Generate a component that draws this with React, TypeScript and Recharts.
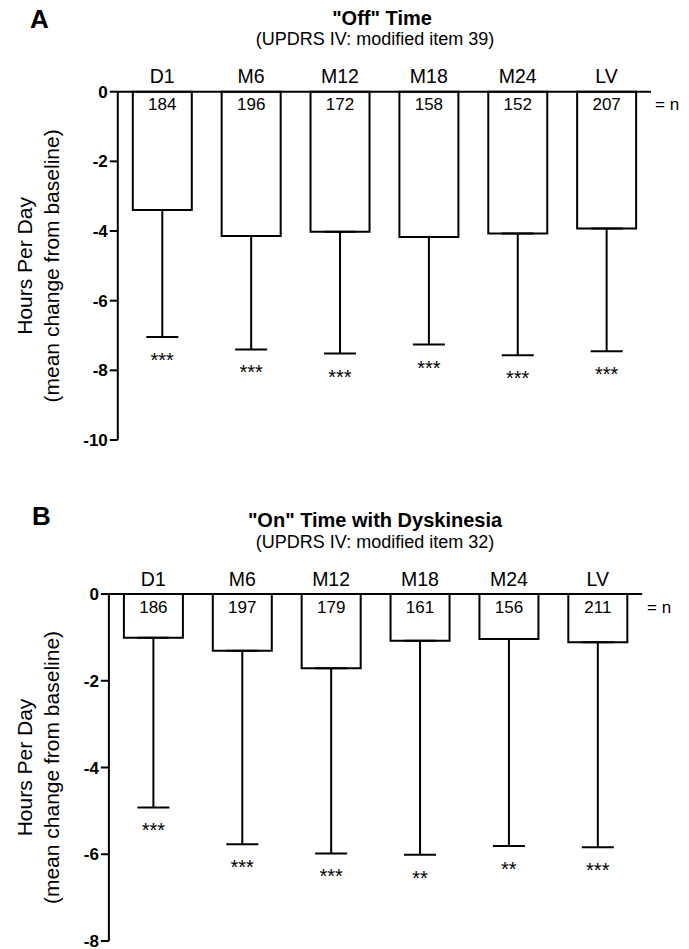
import React from 'react';
import { ComposedChart, Bar, XAxis, YAxis, ErrorBar, Scatter, LabelList } from 'recharts';

const categories = ['D1', 'M6', 'M12', 'M18', 'M24', 'LV'];

// Panel A: "Off" Time
const offMeans = [-3.4, -4.14, -4.02, -4.17, -4.07, -3.93];
const offLowerEnds = [-7.04, -7.4, -7.52, -7.26, -7.57, -7.45];
const offN = [184, 196, 172, 158, 152, 207];
const offStars = ['***', '***', '***', '***', '***', '***'];
const offTicks = [0, -2, -4, -6, -8, -10];

// Panel B: "On" Time with Dyskinesia
const dysMeans = [-1.01, -1.31, -1.71, -1.08, -1.04, -1.11];
const dysLowerEnds = [-4.92, -5.77, -5.98, -6.01, -5.81, -5.84];
const dysN = [186, 197, 179, 161, 156, 211];
const dysStars = ['***', '***', '***', '**', '**', '***'];
const dysTicks = [0, -2, -4, -6, -8];

const FONT = '"Liberation Sans", Arial, Helvetica, sans-serif';

function buildRows(means: number[], lower: number[], n: number[], stars: string[]) {
  return categories.map((c, i) => ({
    cat: c,
    mean: means[i],
    err: [means[i] - lower[i], 0],
    tip: lower[i],
    n: n[i],
    stars: stars[i],
  }));
}

const offRows = buildRows(offMeans, offLowerEnds, offN, offStars);
const dysRows = buildRows(dysMeans, dysLowerEnds, dysN, dysStars);

const NLabel = (props: any) => {
  const vb = props.viewBox || props;
  const x = vb.x ?? props.x;
  const y = vb.y ?? props.y;
  const w = vb.width ?? props.width;
  const h = vb.height ?? props.height;
  const top = Math.min(y, y + h);
  return (
    <text x={x + w / 2} y={top + 18.5} textAnchor="middle" fontSize={17} fontFamily={FONT} fill="#000">
      {props.value}
    </text>
  );
};

const StarShape = (props: any) => (
  <text x={props.cx} y={props.cy + 30} textAnchor="middle" fontSize={20} fontFamily={FONT} fill="#000">
    {props.payload.stars}
  </text>
);

type PanelProps = {
  rows: any[];
  ticks: number[];
  domain: [number, number];
  top: number;
  height: number;
  marginTop: number;
  marginBottom: number;
  marginRight: number;
  yAxisWidth: number;
};

const Panel = ({ rows, ticks, domain, top, height, marginTop, marginBottom, marginRight, yAxisWidth }: PanelProps) => (
  <div style={{ position: 'absolute', left: 0, top }}>
    <ComposedChart
      width={689}
      height={height}
      data={rows}
      margin={{ top: marginTop, right: marginRight, bottom: marginBottom, left: 0 }}
    >
      <XAxis
        dataKey="cat"
        type="category"
        orientation="top"
        height={30}
        tickLine={false}
        tickSize={0}
        tickMargin={8.5}
        axisLine={{ stroke: '#000', strokeWidth: 2 }}
        tick={{ fontSize: 19.5, fill: '#000', fontFamily: FONT }}
        interval={0}
      />
      <YAxis
        type="number"
        domain={domain}
        ticks={ticks}
        interval={0}
        width={yAxisWidth}
        tickSize={8}
        tickMargin={2}
        axisLine={{ stroke: '#000', strokeWidth: 2 }}
        tickLine={{ stroke: '#000', strokeWidth: 2 }}
        tick={{ fontSize: 17, fontWeight: 'bold', fill: '#000', fontFamily: FONT }}
      />
      <Bar dataKey="mean" barSize={59} fill="#fff" stroke="#000" strokeWidth={2} isAnimationActive={false}>
        <ErrorBar dataKey="err" direction="y" width={16} stroke="#000" strokeWidth={2} />
        <LabelList dataKey="n" content={NLabel} />
      </Bar>
      <Scatter dataKey="tip" shape={StarShape} isAnimationActive={false} />
    </ComposedChart>
  </div>
);

const Overlay = () => (
  <svg
    width={689}
    height={949}
    style={{ position: 'absolute', left: 0, top: 0, pointerEvents: 'none' }}
    fontFamily={FONT}
  >
    {/* Panel A */}
    <text x={30} y={28} fontSize={26} fontWeight="bold" fill="#000">A</text>
    <text x={382} y={25} fontSize={20} fontWeight="bold" textAnchor="middle" fill="#000">"Off" Time</text>
    <text x={375} y={45} fontSize={18} textAnchor="middle" fill="#000">(UPDRS IV: modified item 39)</text>
    <text x={655} y={110} fontSize={17} fill="#000">= n</text>
    <g transform="translate(24.4, 265.9) rotate(-90)">
      <text x={0} y={0} fontSize={21} textAnchor="middle" dominantBaseline="central" fill="#000">Hours Per Day</text>
    </g>
    <g transform="translate(51, 265.9) rotate(-90)">
      <text x={0} y={0} fontSize={21} textAnchor="middle" dominantBaseline="central" fill="#000">(mean change from baseline)</text>
    </g>

    {/* Panel B */}
    <text x={32} y={525} fontSize={26} fontWeight="bold" fill="#000">B</text>
    <text x={375} y={527} fontSize={20} fontWeight="bold" textAnchor="middle" fill="#000">"On" Time with Dyskinesia</text>
    <text x={375} y={548} fontSize={18} textAnchor="middle" fill="#000">(UPDRS IV: modified item 32)</text>
    <text x={647} y={613} fontSize={17} fill="#000">= n</text>
    <g transform="translate(24.4, 767.5) rotate(-90)">
      <text x={0} y={0} fontSize={21} textAnchor="middle" dominantBaseline="central" fill="#000">Hours Per Day</text>
    </g>
    <g transform="translate(51, 767.5) rotate(-90)">
      <text x={0} y={0} fontSize={21} textAnchor="middle" dominantBaseline="central" fill="#000">(mean change from baseline)</text>
    </g>
  </svg>
);

export default function App() {
  return (
    <div style={{ position: 'absolute', left: 0, top: 0, width: 689, height: 949, background: '#fff', fontFamily: FONT }}>
      <Panel
        rows={offRows}
        ticks={offTicks}
        domain={[-10, 0]}
        top={0}
        height={470}
        marginTop={61.7}
        marginBottom={30}
        marginRight={38}
        yAxisWidth={117.8}
      />
      <Panel
        rows={dysRows}
        ticks={dysTicks}
        domain={[-8, 0]}
        top={480}
        height={469}
        marginTop={84}
        marginBottom={8}
        marginRight={46.8}
        yAxisWidth={108.9}
      />
      <Overlay />
    </div>
  );
}
